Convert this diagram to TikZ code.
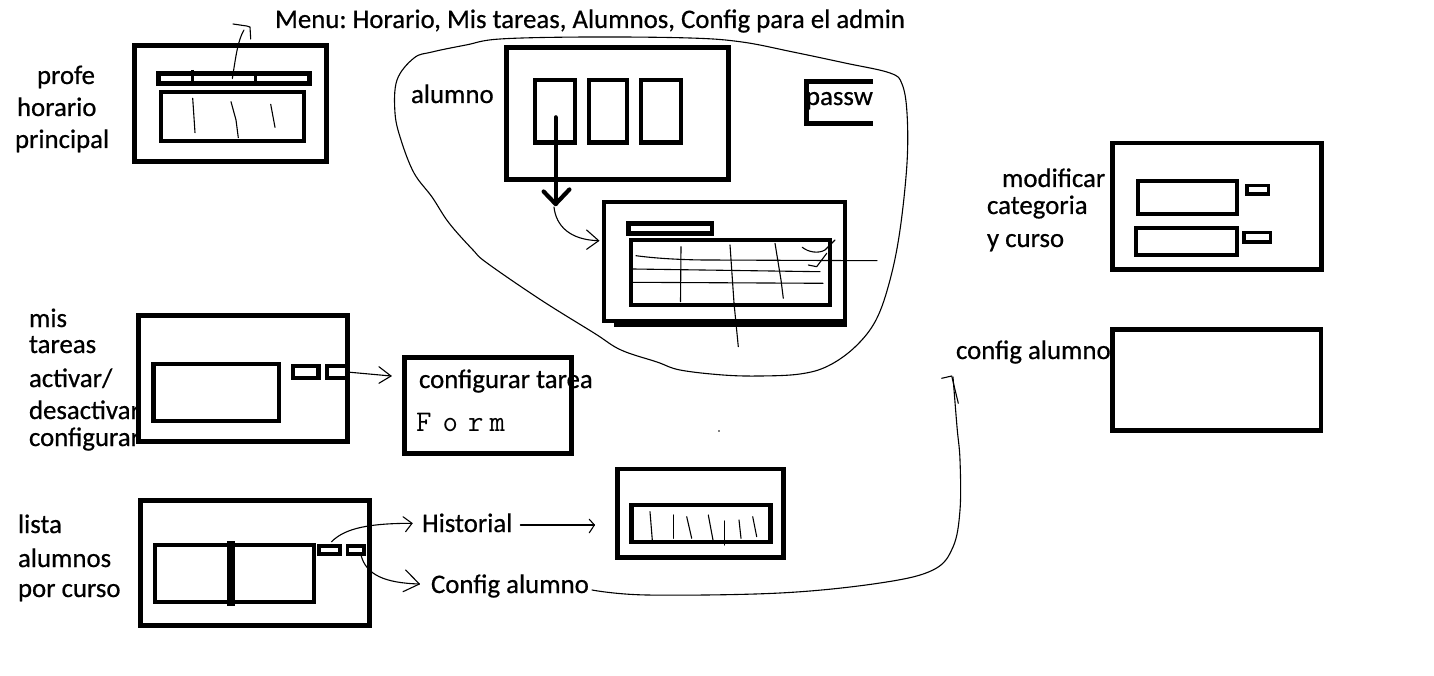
\documentclass[tikz,border=0pt]{standalone}
\usepackage{fontspec}
\setmainfont{Carlito}[FakeBold=0.6]
\frenchspacing
\begin{document}
\begin{tikzpicture}[x=1pt,y=-1pt,
  box/.style={draw=black, rectangle, inner sep=0pt, outer sep=0pt, line width=5pt},
  midbox/.style={box, line width=4.3pt},
  btnbox/.style={box, line width=3.8pt},
  wire/.style={line width=1.1pt, line cap=round, line join=round},
  heavy/.style={line width=4.2pt, line cap=round, line join=round},
  lbl/.style={anchor=base west, inner sep=0pt, outer sep=0pt, font=\fontsize{26.8}{30}\selectfont},
]
\useasboundingbox[fill=white] (0,0) rectangle (1434,676);

% ---------- menu title ----------
\node[lbl] (menu) at (275,28) {Menu: Horario, Mis tareas, Alumnos, Config para el admin};

% ---------- profe: main timetable ----------
\node[lbl] (profe) at (37,84) {profe};
\node[lbl] (horario) at (17,116) {horario};
\node[lbl] (principal) at (15,148) {principal};
\node[box, minimum width=192pt, minimum height=116pt] (pOuter) at (230.8,103.8) {};
\node[box, minimum width=150.7pt, minimum height=10pt] (pBar) at (233.85,78.5) {};
\node[midbox, line width=4pt, minimum width=142.7pt, minimum height=49.3pt] (pContent) at (232.65,116.65) {};
\draw[line width=3.5pt] (192.5,70) -- (192.5,86);
\draw[line width=3.5pt] (255.5,72) -- (255.5,86);
\draw[wire] (192.7,98.3) -- (195,132.7);
\draw[wire] (231,101.7) -- (236,120) -- (238.3,137.7);
\draw[wire] (270.7,104.3) -- (275,127.3);
\coordinate (menuHook) at (244,30);
\draw[wire] ([xshift=-1.5pt]pBar.center) .. controls (236,55) and (238,40) .. (menuHook);
\draw[wire] (233,24) -- (246.7,26) -- (250,27) -- (250.7,39);

% ---------- alumno group ----------
\draw[wire] plot[smooth cycle, tension=0.6] coordinates {
  (397,80) (414,58) (432,52) (466,45) (500,39) (587,37) (690,38) (742,42)
  (793,52) (845,63) (890,73) (902,84) (907,113) (907,163) (900,230) (890,280)
  (876,320) (855,347) (828,366) (800,374) (760,376) (723,375) (680,370) (657,362)
  (621,350) (594,333) (541,300) (487,263) (473,250) (449,223) (432,197) (414,173)
  (401,140) (395,113)};
\node[lbl] (alumno) at (411,103) {alumno};
\node[box, minimum width=222pt, minimum height=132pt] (aOuter) at (617.5,113.5) {};
\node[midbox, minimum width=39.4pt, minimum height=62.7pt] (aCardA) at (555,111.3) {};
\node[midbox, minimum width=37.4pt, minimum height=62.7pt] (aCardB) at (608,111.3) {};
\node[midbox, minimum width=39.4pt, minimum height=62.7pt] (aCardC) at (661,111.3) {};
\coordinate (aDown) at (555.6,204);
\draw[heavy] ([xshift=0.6pt,yshift=-6pt]aCardA.center) -- (aDown);
\draw[heavy] (543.6,191.5) -- (aDown) -- (569.4,189.5);
\coordinate (tblIn) at (598.7,240.7);
\draw[wire] (554,207) .. controls (556,226) and (570,240) .. (tblIn);
\draw[wire] (586.6,230) -- (tblIn) -- (586.6,249.3);

% password field
\node[lbl] (passw) at (806,105) {passw};
\draw[line width=4.3pt] (873,81.5) -- (806.5,81.5) -- (806.5,123.5) -- (873,123.5);

% window with the table
\node[midbox, minimum width=241.3pt, minimum height=119.3pt] (tWin) at (724.35,261.65) {};
\draw[line width=4.3pt] (614,325.3) -- (847,325.3);
\node[midbox, line width=4.6pt, minimum width=83.7pt, minimum height=10pt] (tBar) at (670.2,228.3) {};
\node[midbox, line width=4.2pt, minimum width=198.5pt, minimum height=64.5pt] (tGrid) at (730.4,272.4) {};
\draw[wire] (636,255.7) .. controls (660,259) and (690,260) .. (708,260) -- (877,260.7);
\draw[wire] (633,269) -- (820,271.7);
\draw[wire] (633,282.3) -- (823,283.3);
\draw[wire] (681,246.7) -- (680.5,301.7);
\draw[wire] (730,245) -- (734,303) -- (738.3,346.7);
\draw[wire] (775,243.3) -- (781,280) -- (783.3,298.3);
\draw[wire] (802.3,247.3) .. controls (808,252) and (818,254) .. (825,250) -- (835,240);
\draw[wire] (808.3,265) -- (816.7,266.7) -- (826.7,253.3);

% ---------- mis tareas ----------
\node[lbl] (mis) at (29,327) {mis};
\node[lbl] (tareas) at (29,353) {tareas};
\node[lbl] (activar) at (29,387) {activar/};
\node[lbl] (desactivar) at (29,419) {desactivar};
\node[lbl] (configurar) at (29,446) {configurar};
\node[box, minimum width=209.5pt, minimum height=126pt] (mOuter) at (243.05,378) {};
\node[midbox, line width=4.6pt, minimum width=125.5pt, minimum height=57pt] (mList) at (216.25,392.5) {};
\node[midbox, minimum width=25.6pt, minimum height=11.4pt] (mBtnA) at (305.8,372) {};
\node[midbox, minimum width=20.2pt, minimum height=11.4pt] (mBtnB) at (336.9,372) {};
\coordinate (cfgIn) at (391,376);
\draw[wire] (mBtnB.east) -- (cfgIn);
\draw[wire] (378.9,366.7) -- (cfgIn) -- (378.9,383.3);
\node[box, minimum width=167.2pt, minimum height=96pt] (cfgTask) at (487.9,405.5) {};
\node[lbl] (cfgTaskLbl) at (419,388) {configurar tarea};
\node[anchor=base west, inner sep=0pt, font=\ttfamily\fontsize{30}{30}\selectfont] (form) at (416,431)
  {F\hspace{11pt}o\hspace{10pt}r\hspace{6pt}m};

% ---------- lista alumnos por curso ----------
\node[lbl] (lista) at (18,533) {lista};
\node[lbl] (alumnos) at (18,567) {alumnos};
\node[lbl] (porcurso) at (18,597) {por curso};
\node[box, minimum width=228.7pt, minimum height=125pt] (lOuter) at (254.65,563.3) {};
\node[midbox, line width=4pt, minimum width=159.3pt, minimum height=57.3pt] (lList) at (234.65,573.35) {};
\draw[line width=8pt] (231.4,541) -- (231.4,605.7);
\node[btnbox, minimum width=20.5pt, minimum height=7.7pt] (lBtnA) at (329.55,549.85) {};
\node[btnbox, minimum width=16.4pt, minimum height=7.7pt] (lBtnB) at (355.6,549.85) {};
\node[lbl] (hist) at (422,532) {Historial};
\node[lbl] (cfgAlu) at (431,593) {Config alumno};
\coordinate (histIn) at (412,523.3);
\draw[wire] (331.6,541.7) .. controls (345,528) and (370,523.3) .. (histIn);
\draw[wire] (403,516.7) -- (histIn) -- (405.6,531.7);
\coordinate (cfgAluIn) at (419.4,584);
\draw[wire] (361,555) .. controls (366,575) and (385,583) .. (cfgAluIn);
\draw[wire] (405.6,570) -- (cfgAluIn) -- (403,591.7);
\coordinate (histWinIn) at (594.4,525);
\draw[wire] (520.4,525) -- (histWinIn);
\draw[wire] (589.3,519.3) -- (histWinIn) -- (589.3,532.7);

% history window
\node[box, line width=4.7pt, minimum width=166.4pt, minimum height=88.7pt] (hWin) at (700.5,513.35) {};
\node[box, line width=4.7pt, minimum width=138.6pt, minimum height=37pt] (hList) at (701,523.5) {};
\draw[wire] (650,511.7) -- (652.3,540);
\draw[wire] (673.3,515) -- (673.3,538.3);
\draw[wire] (686.7,516.7) -- (691.7,538.3);
\draw[wire] (708.3,515) -- (713.3,541.7);
\draw[wire] (724.3,521) -- (724.3,545);
\draw[wire] (739,520) -- (741,538.3);
\draw[wire] (752.7,516.7) -- (756.7,536.7);
\fill (719,431) circle (0.8);

% long link to the student settings
\coordinate (aluHook) at (953,377);
\draw[wire] plot[smooth, tension=0.6] coordinates {
  (592,590) (647,595) (780,593) (880,583) (933,570) (953,547) (960,510)
  (960,460) (957,427) (aluHook)};
\draw[wire] (941.7,378.3) -- (951.7,376) -- (958.3,403.3);

% ---------- modificar categoria y curso ----------
\node[lbl] (modificar) at (1002,187) {modificar};
\node[lbl] (categoria) at (987,214) {categoria};
\node[lbl] (ycurso) at (987,247) {y curso};
\node[box, line width=4.7pt, minimum width=209.4pt, minimum height=126.3pt] (modWin) at (1217,206.15) {};
\node[midbox, line width=4pt, minimum width=99.3pt, minimum height=32.7pt] (modF1) at (1187.35,197.35) {};
\node[btnbox, line width=3.5pt, minimum width=21.5pt, minimum height=8.2pt] (modB1) at (1257.5,189.85) {};
\node[midbox, line width=4pt, minimum width=101pt, minimum height=27.6pt] (modF2) at (1186.5,241.5) {};
\node[btnbox, line width=3.5pt, minimum width=26.5pt, minimum height=9.5pt] (modB2) at (1257,237.5) {};

% ---------- config alumno ----------
\node[lbl] (cfgAluLbl) at (956,359) {config alumno};
\node[box, line width=4.7pt, minimum width=208.5pt, minimum height=101pt] (cfgAluWin) at (1216.75,380) {};

\end{tikzpicture}
\end{document}
